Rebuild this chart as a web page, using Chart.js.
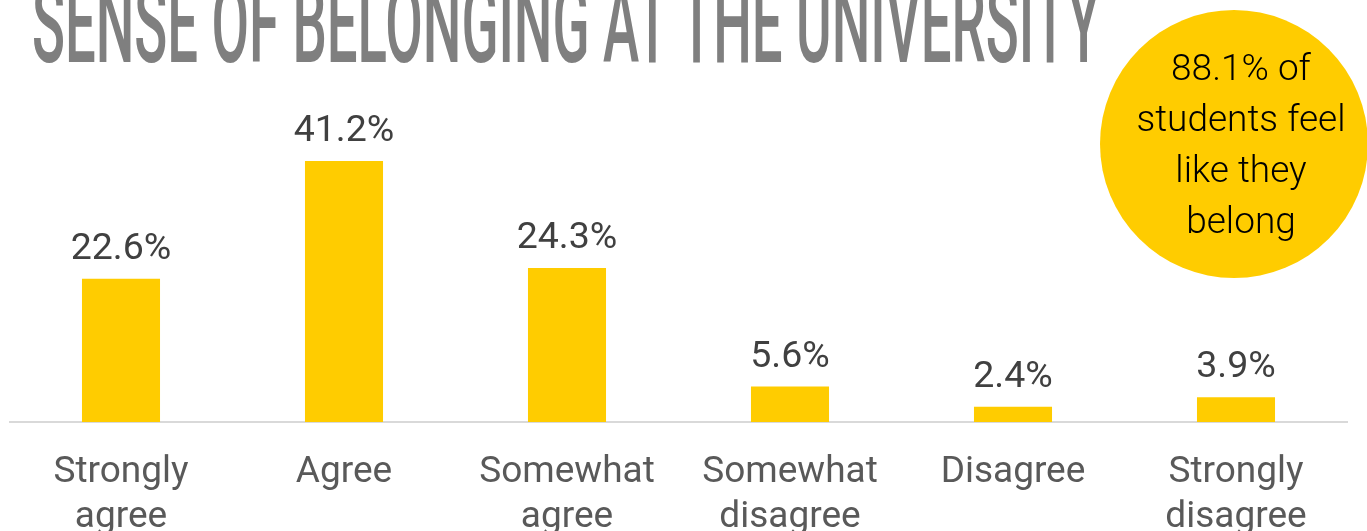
<!DOCTYPE html>
<html>
<head>
<meta charset="utf-8">
<title>Sense of belonging at the university</title>
<script src="https://cdn.jsdelivr.net/npm/chart.js@4.4.1/dist/chart.umd.min.js"></script>
<style>
    html, body { margin: 0; padding: 0; background: #fff; overflow: hidden; }
    #wrap { position: relative; width: 1367px; height: 531px; overflow: hidden; }
    #belongingChart { position: absolute; left: 0; top: 0; }
    #title {
        position: absolute; left: 32px; top: -32px;
        font-family: Roboto, sans-serif; font-size: 112px; font-weight: 500;
        line-height: 1; color: #7f7f7f; white-space: nowrap;
        transform-origin: 0 0;
    }
    #bubble {
        position: absolute; left: 1100px; top: 10px; width: 268px; height: 268px;
        border-radius: 50%; background: #ffcc00;
    }
    #bubble-text {
        position: absolute; left: 1121px; top: 42px; width: 240px;
        text-align: center; font-family: Roboto, sans-serif; font-weight: 300;
        font-size: 37px; line-height: 51px; color: #000;
    }
</style>
</head>
<body>
<div id="wrap">
    <canvas id="belongingChart" width="1367" height="531"></canvas>
    <div id="title">SENSE OF BELONGING AT THE UNIVERSITY</div>
    <div id="bubble"></div>
    <div id="bubble-text"></div>
</div>
<script>
const categories = [['Strongly', 'agree'], 'Agree', ['Somewhat', 'agree'], ['Somewhat', 'disagree'], 'Disagree', ['Strongly', 'disagree']];
const shares = [22.6, 41.2, 24.3, 5.6, 2.4, 3.9];
const agreeCount = 3; // first three answers count as "belonging"
const yMax = 50;

const barColor = '#ffcc00';

// Squeeze the headline into a condensed look
const title = document.getElementById('title');
title.style.transform = 'scaleX(' + (1068 / title.offsetWidth) + ')';

// Bubble text uses the sum of the agree shares
const belongShare = shares.slice(0, agreeCount).reduce((a, b) => a + b, 0);
document.getElementById('bubble-text').innerHTML =
    belongShare.toFixed(1) + '% of<br>students feel<br>like they<br>belong';

// Percent labels above each bar
const valueLabels = {
    id: 'valueLabels',
    afterDatasetsDraw(chart) {
        const ctx = chart.ctx;
        const meta = chart.getDatasetMeta(0);
        ctx.save();
        ctx.font = '400 37.5px Roboto';
        ctx.fillStyle = '#404040';
        ctx.textAlign = 'center';
        ctx.textBaseline = 'alphabetic';
        meta.data.forEach((bar, i) => {
            ctx.fillText(shares[i].toFixed(1) + '%', bar.x, bar.y - 20);
        });
        ctx.restore();
    }
};

const canvas = document.getElementById('belongingChart');
new Chart(canvas.getContext('2d'), {
    type: 'bar',
    data: {
        labels: categories,
        datasets: [{
            data: shares,
            backgroundColor: barColor,
            borderWidth: 0,
            categoryPercentage: 1,
            barPercentage: 0.35
        }]
    },
    options: {
        responsive: false,
        animation: false,
        devicePixelRatio: 1,
        layout: {
            padding: { top: 105.2, left: 9.5, right: 19.5, bottom: 0 }
        },
        plugins: {
            legend: { display: false },
            tooltip: { enabled: false },
            title: { display: false }
        },
        scales: {
            x: {
                grid: { display: false, drawTicks: false },
                border: { display: true, color: '#d9d9d9', width: 2 },
                ticks: {
                    color: '#595959',
                    padding: 28,
                    maxRotation: 0,
                    autoSkip: false,
                    font: { family: 'Roboto', size: 37, weight: '400', lineHeight: 1.22 }
                },
                afterFit(scale) {
                    scale.height = 109;
                }
            },
            y: {
                display: false,
                min: 0,
                max: yMax
            }
        }
    },
    plugins: [valueLabels]
});
</script>
</body>
</html>
